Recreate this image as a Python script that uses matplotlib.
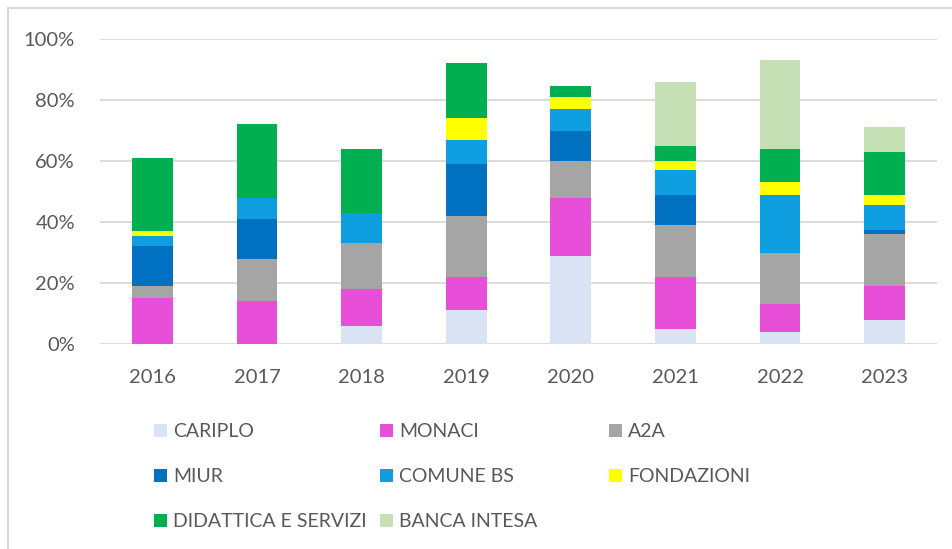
import matplotlib.pyplot as plt
from matplotlib.lines import Line2D
from matplotlib.ticker import PercentFormatter
import numpy as np

plt.rcParams['font.family'] = ['Lato', 'DejaVu Sans']

years = ['2016', '2017', '2018', '2019', '2020', '2021', '2022', '2023']
series = ['CARIPLO', 'MONACI', 'A2A', 'MIUR', 'COMUNE BS', 'FONDAZIONI',
          'DIDATTICA E SERVIZI', 'BANCA INTESA']

cariplo    = [0, 0, 6, 11, 29, 5, 4, 8]
monaci     = [15, 14, 12, 11, 19, 17, 9, 11]
a2a        = [4, 14, 15, 20, 12, 17, 17, 17]
miur       = [13, 13, 0, 17, 10, 10, 0, 1.5]
comune_bs  = [3.5, 7, 10, 8, 7, 8, 19, 8]
fondazioni = [1.5, 0, 0, 7, 4, 3, 4, 3.5]
didattica  = [24, 24, 21, 18, 3.5, 5, 11, 14]
banca      = [0, 0, 0, 0, 0, 21, 29, 8]

colors = ['#dae3f3', '#e84fd8', '#a5a5a5', '#0070c0', '#0f9fe0',
          '#ffff00', '#00b050', '#c5e0b4']

values = [cariplo, monaci, a2a, miur, comune_bs, fondazioni, didattica, banca]

txt = '#595959'
fs = 14.5
fig = plt.figure(figsize=(9.52, 5.49), dpi=100)
ax = fig.add_axes([100/952, 1-344/549, 837/952, 305/549])

x = np.arange(len(years))
bottom = np.zeros(len(years))
bars = []
for name, vals, c in zip(series, values, colors):
    b = ax.bar(x, vals, bottom=bottom, width=0.39, color=c, label=name, zorder=3)
    bars.append(b)
    bottom += np.array(vals)

ax.set_xlim(-0.5, len(years) - 0.5)
ax.set_ylim(0, 100)
ax.set_yticks(range(0, 101, 20))
ax.yaxis.set_major_formatter(PercentFormatter(decimals=0))
ax.set_xticks(x)
ax.set_xticklabels(years)
ax.grid(axis='y', color='#d9d9d9', linewidth=1.3, zorder=0)
for s in ax.spines.values():
    s.set_visible(False)
ax.tick_params(length=0, labelsize=fs, colors=txt)
ax.tick_params(axis='x', pad=18)
ax.tick_params(axis='y', pad=18)

# legend: three columns placed by hand
cols = [[0, 3, 6], [1, 4, 7], [2, 5]]
xpos = [154, 380, 609]
for xp, idx in zip(xpos, cols):
    fig.legend([bars[i] for i in idx], [series[i] for i in idx],
               loc='upper left', bbox_to_anchor=(xp/952, 1-423/549),
               frameon=False, fontsize=14, labelcolor=txt,
               handlelength=0.68, handleheight=0.68, handletextpad=0.3,
               labelspacing=1.45, borderpad=0, borderaxespad=0)

# chart border
fig.add_artist(Line2D([8/952, 8/952], [0, 1-8/549], color='#d9d9d9', lw=1.5))
fig.add_artist(Line2D([8/952, 1], [1-8/549, 1-8/549], color='#d9d9d9', lw=1.5))

fig.savefig('out.png', dpi=100)
